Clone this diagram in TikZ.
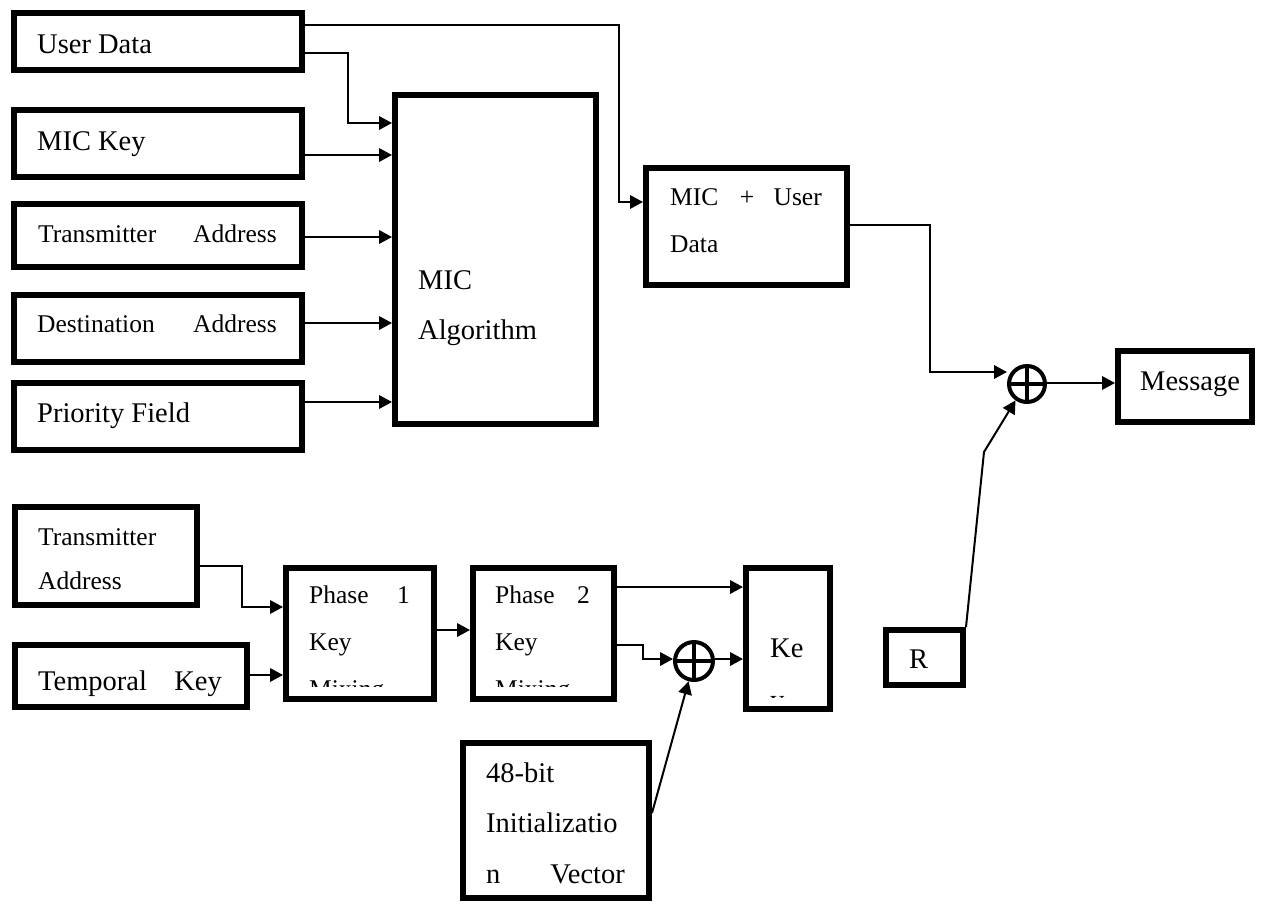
\documentclass[tikz,border=0pt]{standalone}
\usepackage{fontspec}
\setmainfont{Liberation Serif}
\usetikzlibrary{arrows.meta}

% block given by its outer corners (x1,y1) and (x2,y2), border 6pt
\newcommand\blk[5]{%
  \node[blk, minimum width={(#4-#2-6)*1pt}, minimum height={(#5-#3-6)*1pt}]
    (#1) at ({(#2+#4)/2},{(#3+#5)/2}) {};}

\tikzset{
  blk/.style={draw, line width=6pt, rectangle, inner sep=0pt, fill=white},
  lg/.style={font=\fontsize{28.5}{34}\selectfont, inner sep=0pt},
  sm/.style={font=\fontsize{25.5}{30}\selectfont, inner sep=0pt},
  arr/.style={-{Triangle[length=13pt,width=13.5pt]}, line width=2pt},
  xorop/.style={circle, draw, line width=4pt, inner sep=0pt,
    path picture={
      \draw[line width=4pt] (path picture bounding box.north) -- (path picture bounding box.south);
      \draw[line width=4pt] (path picture bounding box.west) -- (path picture bounding box.east);}},
}

\begin{document}
\begin{tikzpicture}[x=1pt,y=-1pt]
\useasboundingbox (0,0) rectangle (1267,903);

% ---- MIC section: input blocks
\blk{ud}{11}{10}{305}{73}
\blk{mk}{11}{107}{305}{180}
\blk{ta}{11}{201}{305}{270}
\blk{da}{11}{292}{305}{365}
\blk{pf}{11}{380}{305}{453}
\blk{mic}{392}{92}{599}{427}
\blk{mud}{643}{165}{850}{288}
\blk{msg}{1115}{348}{1255}{425}
\blk{r}{883}{627}{966}{688}

\node[lg, anchor=base west] (udt) at (37,53) {User Data};
\node[lg, anchor=base west] (mkt) at (37,150) {MIC Key};
\node[sm, anchor=base west] (tat1) at (38,242) {Transmitter};
\node[sm, anchor=base east] (tat2) at (277,242) {Address};
\node[sm, anchor=base west] (dat1) at (37,332) {Destination};
\node[sm, anchor=base east] (dat2) at (277,332) {Address};
\node[lg, anchor=base west] (pft) at (37,422) {Priority Field};
\node[lg, anchor=base west] (mict1) at (418,289) {MIC};
\node[lg, anchor=base west] (mict2) at (418,339) {Algorithm};
\node[sm, anchor=base west] (mudt1) at (670,205) {MIC};
\node[sm, anchor=base] (mudt2) at (747,205) {+};
\node[sm, anchor=base east] (mudt3) at (822,205) {User};
\node[sm, anchor=base west] (mudt4) at (670,252) {Data};
\node[lg, anchor=base west] (msgt) at (1140,390) {Message};
\node[lg, anchor=base west] (rt) at (909,668) {R};

\node[xorop, minimum size=36pt] (xa) at (1027,384) {};

% ---- MIC section: connectors
\coordinate (c1) at (619,25);
\coordinate (c2) at (348,53);
\coordinate (c3) at (930,225);
\coordinate (c4) at (984,452);
\draw[arr] (ud.east |- c1) -- (c1) |- (mud.west |- 0,202);
\draw[arr] (ud.east |- c2) -- (c2) |- (mic.west |- 0,123);
\draw[arr] (mk.east |- 0,155) -- (mic.west |- 0,155);
\draw[arr] (ta.east |- 0,237) -- (mic.west |- 0,237);
\draw[arr] (da.east |- 0,323) -- (mic.west |- 0,323);
\draw[arr] (pf.east |- 0,402) -- (mic.west |- 0,402);
\draw[arr] (mud.east |- c3) -- (c3) |- (xa.west |- 0,372);
\draw[arr] (xa.east |- 0,383) -- (msg.west |- 0,383);
\draw[arr] (r.north east) -- (c4) -- (xa.235);

% ---- key mixing section: blocks
\blk{tb}{12}{504}{200}{608}
\blk{tk}{12}{642}{250}{710}
\blk{pa}{283}{565}{437}{702}
\blk{pb}{470}{565}{617}{702}
\blk{key}{743}{565}{833}{712}
\blk{iv}{460}{740}{652}{901}

\node[sm, anchor=base west] (tbt1) at (38,545) {Transmitter};
\node[sm, anchor=base west] (tbt2) at (38,589) {Address};
\node[lg, anchor=base west] (tkt1) at (38,690) {Temporal};
\node[lg, anchor=base east] (tkt2) at (222,690) {Key};

\begin{scope}
  \clip (286,568) rectangle (434,686);
  \node[sm, anchor=base west] (pat1) at (309,603) {Phase};
  \node[sm, anchor=base east] (pat2) at (410,603) {1};
  \node[sm, anchor=base west] (pat3) at (309,650) {Key};
  \node[sm, anchor=base west] (pat4) at (309,697) {Mixing};
\end{scope}
\begin{scope}
  \clip (473,568) rectangle (614,686);
  \node[sm, anchor=base west] (pbt1) at (495,603) {Phase};
  \node[sm, anchor=base east] (pbt2) at (590,603) {2};
  \node[sm, anchor=base west] (pbt3) at (495,650) {Key};
  \node[sm, anchor=base west] (pbt4) at (495,697) {Mixing};
\end{scope}
\begin{scope}
  \clip (746,568) rectangle (830,697);
  \node[lg, anchor=base west] (keyt1) at (770,657) {Ke};
  \node[lg, anchor=base west] (keyt2) at (770,709) {y};
\end{scope}

\node[lg, anchor=base west] (ivt1) at (486,782) {48-bit};
\node[lg, anchor=base west] (ivt2) at (486,832) {Initializatio};
\node[lg, anchor=base west] (ivt3) at (486,883) {n};
\node[lg, anchor=base east] (ivt4) at (625,883) {Vector};

\node[xorop, minimum size=38pt] (xb) at (694,661) {};

% ---- key mixing section: connectors
\coordinate (d1) at (242,566);
\coordinate (d2) at (643,645);
\draw[arr] (tb.east |- d1) -- (d1) |- (pa.west |- 0,607);
\draw[arr] (tk.east |- 0,675) -- (pa.west |- 0,675);
\draw[arr] (pa.east |- 0,630) -- (pb.west |- 0,630);
\draw[arr] (pb.east |- 0,587) -- (key.west |- 0,587);
\draw[arr] (pb.east |- d2) -- (d2) |- (xb.west |- 0,659);
\draw[arr] (xb.east |- 0,659) -- (key.west |- 0,659);
\draw[arr] (iv.east |- 0,813) -- (xb.255);
\end{tikzpicture}
\end{document}
